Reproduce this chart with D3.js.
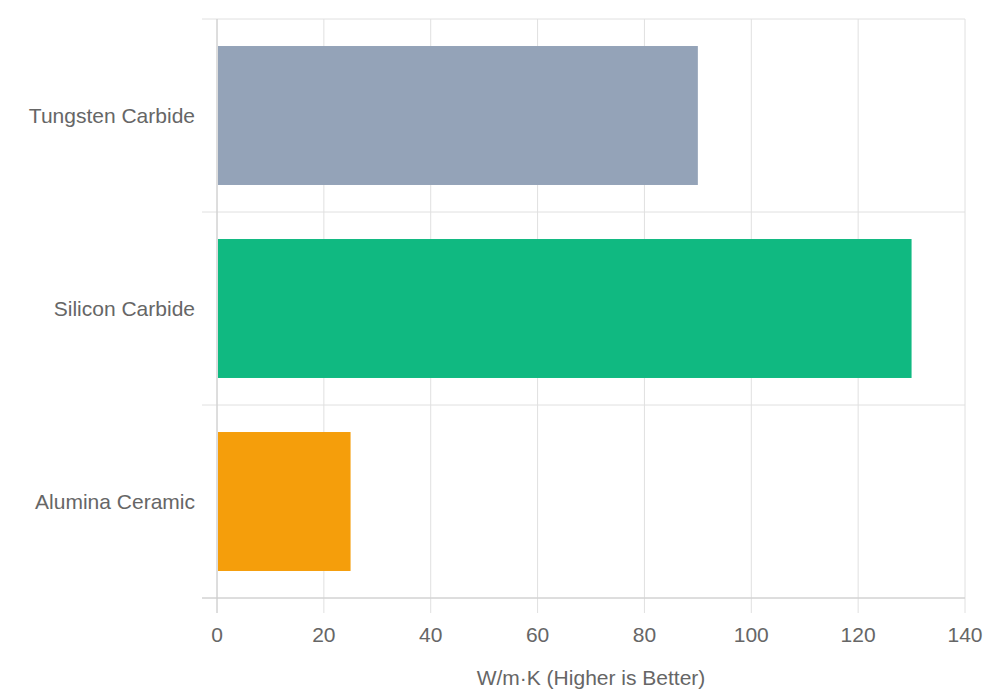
<!DOCTYPE html>
<html><head><meta charset="utf-8">
<script src="https://cdn.jsdelivr.net/npm/d3@7"></script>
<style>body{margin:0;background:#fff}text{font-family:"Liberation Sans",Arial,sans-serif;fill:#666}</style>
</head><body><svg id="chart" width="992" height="700"></svg>
<script>
var materials = ["Tungsten Carbide", "Silicon Carbide", "Alumina Ceramic"];
var conductivity = [90, 130, 25];
var barColors = ["#94a3b8", "#10b981", "#f59e0b"];
var xTicks = [0, 20, 40, 60, 80, 100, 120, 140];
var axisTitle = "W/m·K (Higher is Better)";

var svg = d3.select("#chart");
var plotLeft = 217, plotRight = 965, plotTop = 19, plotBottom = 598;

var x = d3.scaleLinear().domain([0, 140]).range([plotLeft, plotRight]);
var y = d3.scaleBand().domain(materials).range([plotTop, plotBottom]).paddingInner(0).paddingOuter(0);

// grid
svg.selectAll(".vgrid").data(xTicks).enter().append("line")
  .attr("x1", d => x(d)).attr("x2", d => x(d))
  .attr("y1", plotTop).attr("y2", plotBottom + 15)
  .attr("stroke", "#e0e0e0").attr("stroke-width", 1);
var hlines = [0, 1, 2, 3].map(i => plotTop + i * y.bandwidth());
svg.selectAll(".hgrid").data(hlines).enter().append("line")
  .attr("x1", plotLeft - 15).attr("x2", plotRight)
  .attr("y1", d => d).attr("y2", d => d)
  .attr("stroke", "#e0e0e0").attr("stroke-width", 1);
// axis lines
svg.append("line").attr("x1", plotLeft).attr("x2", plotLeft).attr("y1", plotTop).attr("y2", plotBottom + 15).attr("stroke", "#ccc");
svg.append("line").attr("x1", plotLeft - 15).attr("x2", plotRight).attr("y1", plotBottom).attr("y2", plotBottom).attr("stroke", "#ccc");

// bars
var bh = y.bandwidth() * 0.72;
svg.selectAll(".bar").data(materials).enter().append("rect")
  .attr("x", x(0) + 1)
  .attr("y", d => y(d) + (y.bandwidth() - bh) / 2)
  .attr("width", (d, i) => x(conductivity[i]) - x(0) - 1)
  .attr("height", bh)
  .attr("fill", (d, i) => barColors[i]);

// labels
svg.selectAll(".ylab").data(materials).enter().append("text")
  .attr("x", plotLeft - 22).attr("y", d => y(d) + y.bandwidth() / 2)
  .attr("text-anchor", "end").attr("dominant-baseline", "central")
  .attr("font-size", 21).text(d => d);
svg.selectAll(".xlab").data(xTicks).enter().append("text")
  .attr("x", d => x(d)).attr("y", 642)
  .attr("text-anchor", "middle").attr("font-size", 21).text(d => d);
svg.append("text").attr("x", (plotLeft + plotRight) / 2).attr("y", 685)
  .attr("text-anchor", "middle").attr("font-size", 21).text(axisTitle);
</script></body></html>
